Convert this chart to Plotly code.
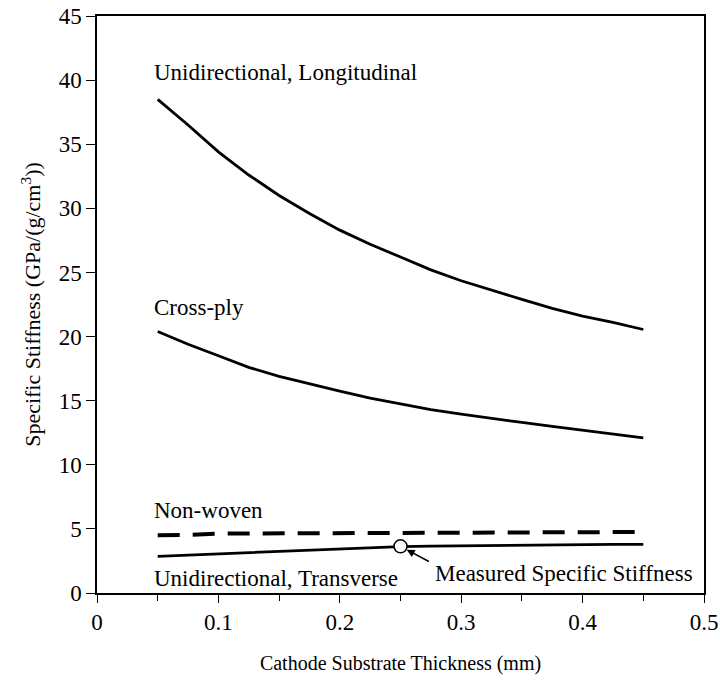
import plotly.graph_objects as go

thickness = [0.05, 0.075, 0.1, 0.125, 0.15, 0.175, 0.2, 0.225, 0.25,
             0.275, 0.3, 0.325, 0.35, 0.375, 0.4, 0.425, 0.45]
uni_long = [38.5, 36.5, 34.4, 32.6, 31.0, 29.6, 28.3, 27.2, 26.2,
            25.2, 24.35, 23.6, 22.9, 22.2, 21.6, 21.1, 20.55]
cross_ply = [20.4, 19.4, 18.5, 17.6, 16.9, 16.3, 15.75, 15.2, 14.75,
             14.3, 13.95, 13.6, 13.3, 13.0, 12.7, 12.4, 12.1]
non_woven = [4.5, 4.52, 4.63, 4.64, 4.66, 4.67, 4.68, 4.69, 4.7,
             4.71, 4.72, 4.72, 4.73, 4.74, 4.75, 4.75, 4.76]
uni_trans = [2.86, 2.95, 3.05, 3.15, 3.25, 3.35, 3.45, 3.55, 3.62,
             3.65, 3.68, 3.7, 3.72, 3.74, 3.77, 3.79, 3.8]
measured_x = [0.25]
measured_y = [3.64]

FONT = "Liberation Serif"

fig = go.Figure()
fig.add_trace(go.Scatter(x=thickness, y=uni_long, mode="lines",
                         line=dict(color="black", width=2.8)))
fig.add_trace(go.Scatter(x=thickness, y=cross_ply, mode="lines",
                         line=dict(color="black", width=2.8)))
fig.add_trace(go.Scatter(x=thickness, y=non_woven, mode="lines",
                         line=dict(color="black", width=4, dash="22px,13px")))
fig.add_trace(go.Scatter(x=thickness, y=uni_trans, mode="lines",
                         line=dict(color="black", width=2.8)))
fig.add_trace(go.Scatter(x=measured_x, y=measured_y, mode="markers",
                         marker=dict(size=13, color="white",
                                     line=dict(color="black", width=1.5))))

ann_font = dict(family=FONT, size=23, color="black")
labels = [
    ("Unidirectional, Longitudinal", 0.0456, 40.6),
    ("Cross-ply", 0.0456, 22.3),
    ("Non-woven", 0.0456, 6.4),
    ("Unidirectional, Transverse", 0.0456, 1.15),
    ("Measured Specific Stiffness", 0.2765, 1.5),
]
for txt, ax_, ay_ in labels:
    fig.add_annotation(x=ax_, y=ay_, text=txt, showarrow=False,
                       xanchor="left", yanchor="middle", font=ann_font)

fig.add_annotation(x=measured_x[0], y=measured_y[0], ax=0.2746, ay=2.39,
                   axref="x", ayref="y", xref="x", yref="y", text="",
                   showarrow=True, arrowhead=2, arrowsize=1, arrowwidth=1.6,
                   arrowcolor="black", standoff=7)

fig.update_layout(
    width=720, height=692,
    margin=dict(l=97, r=16, t=16, b=99, autoexpand=False),
    paper_bgcolor="white", plot_bgcolor="white",
    showlegend=False,
    font=dict(family=FONT, size=22, color="black"),
)
fig.update_xaxes(
    range=[0, 0.5], dtick=0.1, tick0=0, automargin=False,
    ticks="outside", ticklen=8, tickwidth=1.2, tickcolor="black",
    minor=dict(dtick=0.05, ticks="outside", ticklen=6, tickwidth=1.2, tickcolor="black"),
    showline=True, linecolor="black", linewidth=1.5, mirror=True,
    showgrid=False, zeroline=False,
    tickfont=dict(family=FONT, size=23),
    title=dict(text="Cathode Substrate Thickness (mm)", standoff=22,
               font=dict(family=FONT, size=20)),
)
fig.update_yaxes(
    range=[0, 45], dtick=5, tick0=0, automargin=False,
    ticks="outside", ticklen=9, tickwidth=1.2, tickcolor="black",
    showline=True, linecolor="black", linewidth=1.5, mirror=True,
    showgrid=False, zeroline=False,
    tickfont=dict(family=FONT, size=23),
    title=dict(text="Specific Stiffness (GPa/(g/cm<sup>3</sup>))", standoff=12,
               font=dict(family=FONT, size=22)),
)

fig.write_html("out.html")
